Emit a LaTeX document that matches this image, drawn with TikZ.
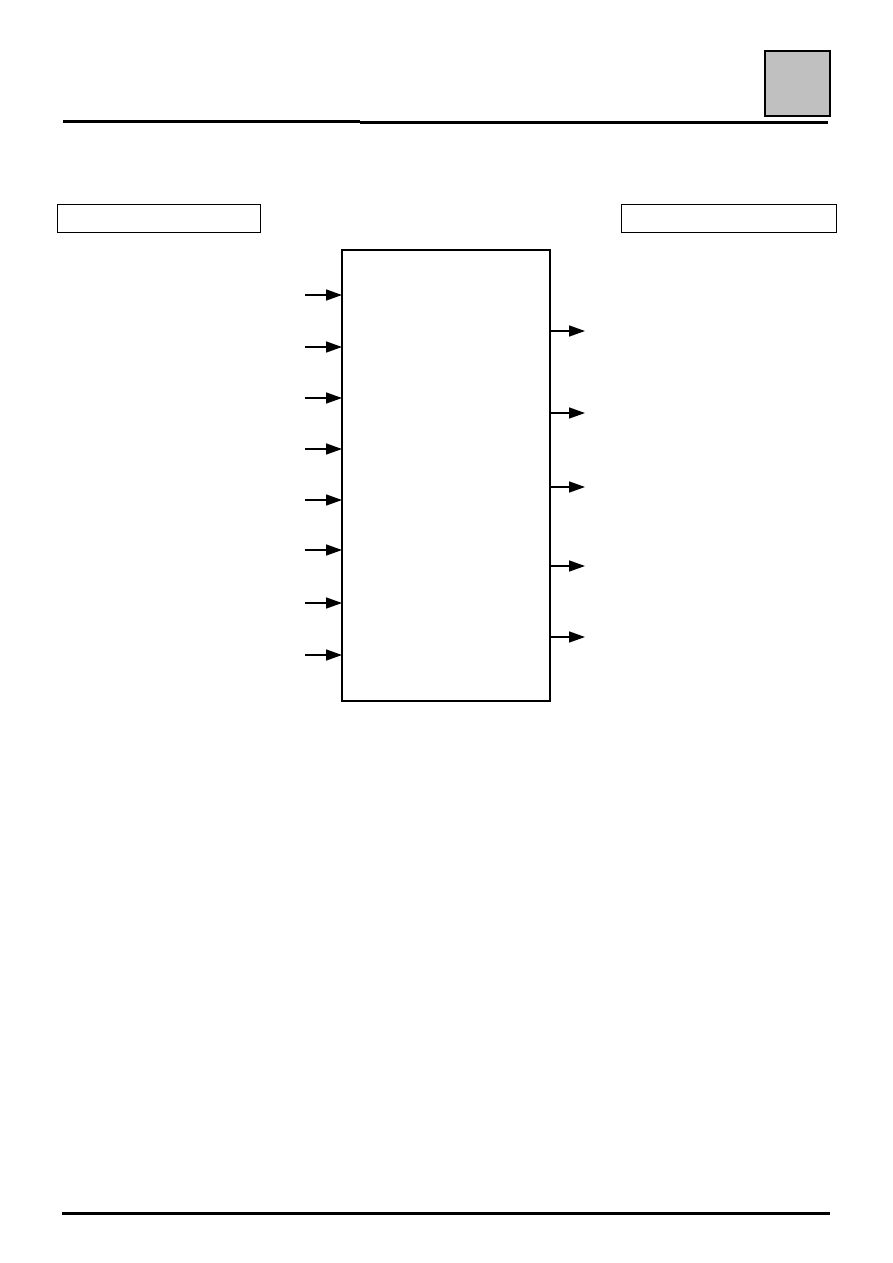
\documentclass[tikz,border=0pt]{standalone}
\usepackage{tikz}
\usetikzlibrary{positioning,arrows.meta}
\definecolor{tabgray}{RGB}{192,192,192}

\begin{document}
\begin{tikzpicture}[x=1pt,y=-1pt,
    sig/.style={line width=1.5pt,-{Triangle[length=16pt,width=11pt]}},
    frame/.style={draw,line width=1pt,inner sep=0pt,outer sep=0pt,anchor=north west}]
  \useasboundingbox (0,0) rectangle (893,1263);
  % page rules
  \draw[line width=3pt] (63,121.5) -- (360,121.5);
  \draw[line width=3pt] (360,122.5) -- (828,122.5);
  \draw[line width=3pt] (62,1213) -- (830,1213);
  % corner tab
  \node[frame,line width=2pt,fill=tabgray,minimum width=65pt,minimum height=65pt] (tab) at (765,51) {};
  % heading boxes
  \node[frame,minimum width=203pt,minimum height=28pt] (inhead) at (57,204) {};
  \node[frame,minimum width=215pt,minimum height=28pt] (outhead) at (621,204) {};
  % block
  \node[frame,line width=1.5pt,minimum width=208pt,minimum height=451pt] (chip) at (342,250) {};
  \foreach \y [count=\i] in {295,347,398,449,500,550,603,655}{
    \coordinate (in\i) at (305,\y);
    \draw[sig] (in\i) -- (in\i -| chip.west);
  }
  \foreach \y [count=\i] in {331,413,487,566,637}{
    \coordinate (out\i) at (585,\y);
    \draw[sig] (out\i -| chip.east) -- (out\i);
  }
\end{tikzpicture}
\end{document}
